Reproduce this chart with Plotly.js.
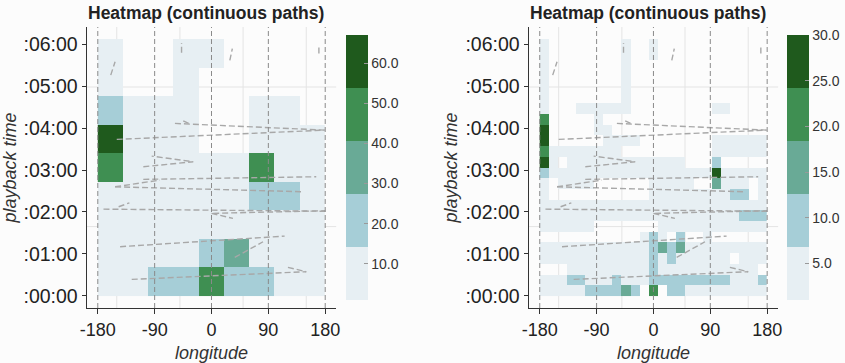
<!DOCTYPE html>
<html>
<head>
<meta charset="utf-8">
<script src="https://cdn.plot.ly/plotly-3.0.1.min.js"></script>
<style>html,body{margin:0;padding:0;background:#fcfcfc;}#chart{width:845px;height:363px;}</style>
</head>
<body>
<div id="chart"></div>
<script>
// ---------- data ----------
const chartTitle = "Heatmap (continuous paths)";
const lonTicks = [-180, -90, 0, 90, 180];
const lonTickText = ["-180", "-90", "0", "90", "180"];
const timeTicks = [0, 60, 120, 180, 240, 300, 360];   // minutes
const timeTickText = [":00:00", ":01:00", ":02:00", ":03:00", ":04:00", ":05:00", ":06:00"];
const bgGridLon = [-150, -50, 50, 150];
const bgGridTime = [99, 299];

// left heatmap: 9 longitude bins x 9 time bins
const leftLon = [-160, -120, -80, -40, 0, 40, 80, 120, 160];
const leftTime = [20.4, 61.3, 102.1, 143.0, 183.8, 224.6, 265.5, 306.3, 347.2];
const leftZ = [
  [7, 7, 20, 20, 47, 20, 20, 7, 7],
  [7, 7, 7, 7, 20, 34, 7, 7, 7],
  [7, 7, 7, 7, 7, 7, 7, 7, 7],
  [7, 7, 7, 7, 7, 7, 20, 20, 7],
  [47, 7, 7, 7, 7, 7, 47, 7, 7],
  [67, 7, 7, 7, null, null, 7, 7, 7],
  [20, 7, 7, 7, null, null, 7, 7, null],
  [7, null, null, 7, null, null, null, null, null],
  [7, null, null, 7, 7, null, null, null, null]
];
const leftCbTicks = [10, 20, 30, 40, 50, 60];

// right heatmap: 25 longitude bins x 24 time bins
const rightLon = [-172.8, -158.4, -144, -129.6, -115.2, -100.8, -86.4, -72, -57.6, -43.2, -28.8, -14.4, 0,
                  14.4, 28.8, 43.2, 57.6, 72, 86.4, 100.8, 115.2, 129.6, 144, 158.4, 172.8];
const rightTime = [7.7, 23.0, 38.3, 53.6, 68.9, 84.3, 99.6, 114.9, 130.2, 145.5, 160.9, 176.2,
                   191.5, 206.8, 222.1, 237.4, 252.8, 268.1, 283.4, 298.7, 314.0, 329.3, 344.7, 360.0];
const n = null;
const rightZ = [
  [3,3,3,3,3, 9,9,9,9, 15, 9, n, 21, n, 9,9, 3,3,3,3,3,3,3,3,3],
  [3,3,3, 9,9, 3,3,3, 9, 3,3,3, 9,9,9,9,9,9,9,9,9, 3,3,3, 9],
  [n,n,n, 3,3,3,3,3,3,3,3,3, 9, 3,3,3,3,3,3,3,3,3,3,3, n],
  [3,3,3,3,3,3,3,3,3,3,3,3, 9, 3, 9, 3,3,3,3,3,3, n, 3,3,3],
  [3,3,3,3,3,3,3,3,3,3,3,3, 9, 15, 9, 15, 3,3,3,3,3,3,3,3,3],
  [n,n,n,n,n,n,n,n,n,n,n, 3, 9, 3, n, 9, n, n, 3, n,n,n,n,n,n],
  [3,3,3,3,3,3, n,n,n,n,n,n,n, 3, 3,3,3,3,3,3,3,3,3,3,3],
  [3,3,3,3,3,3,3,3,3,3,3,3,3,3,3,3,3,3,3,3,3,3, 9,9,9],
  [3,3,3,3,3,3,3,3,3,3,3,3,3,3,3,3,3,3,3,3,3,3,3,3,3],
  [3, n,n,n,n,n,n,n,n,n,n,n, 3,3,3,3,3,3,3, 3, 3, 9, 9, n, 3],
  [3, n, 3,3,3,3, n,n,n,n,n,n, 3,3,3,3,3, n, n, 15, 3,3,3, n, 3],
  [9, 3,3,3,3,3,3,3,3,3,3,3,3,3,3,3,3,3,3, 27, 3,3,3,3,3],
  [27, 3, n, 3,3,3,3,3,3,3,3,3,3,3,3,3, n,n,n, 9, n,n,n,n,n],
  [21, 3,3,3,3,3,3,3,3, n,n,n,n,n,n,n,n,n,n, 3,3,3,3,3,3],
  [27, n,n,n,n,n,n, 3,3,3,3, n,n,n,n,n,n,n,n, 3,3,3,3,3,3],
  [27, n,n,n,n,n, 3,3, n,n,n,n,n,n,n,n,n,n,n,n,n,n,n,n,n],
  [21, n,n,n,n,n, 3, n,n,n,n,n,n,n,n,n,n,n,n,n,n,n,n,n,n],
  [3, n,n,n, 3,3,3,3,3,3, n,n,n,n,n,n,n,n,n, 3,3, n,n,n,n],
  [3, n,n,n,n,n,n,n,n, 3, n,n,n,n,n,n,n,n,n,n,n,n,n,n,n],
  [3, n,n,n,n,n,n,n,n, 3, n,n,n,n,n,n,n,n,n,n,n,n,n,n,n],
  [3, n,n,n,n,n,n,n,n, 3, n,n,n,n,n,n,n,n,n,n,n,n,n,n,n],
  [3, n,n,n,n,n,n,n,n, 3, n,n,n,n,n,n,n,n,n,n,n,n,n,n,n],
  [3, n,n,n,n,n,n,n,n, 3, n,n, 3, n,n,n,n,n,n,n,n,n,n,n,n],
  [3, n,n,n,n,n,n,n,n, 3, n,n, 3, n,n,n,n,n,n,n,n,n,n,n,n]
];
const rightCbTicks = [5, 10, 15, 20, 25, 30];

// continuous paths (longitude, minutes), segments separated by null
const pathLon = [-159.5, -152.6, null, -47.4, -47.4, null, 29, 33, null, 170, 170, null,
  -57.9, 179, null, -44.7, -34, null, -150, 179, null,
  -107.9, -28.9, -94.7, null, -152.6, -81.6, null, -108, 165.8, null,
  -152.6, 142, null, -171, 180, null, -147, -130, null,
  0, 34, null, 2.6, 180, null, -144.7, 115.8, null, 36.8, 81.6, null,
  -126.3, 150, null, 121, 150];
const pathTime = [316, 335, null, 348, 362, null, 337, 354, null, 347, 359, null,
  246.8, 237.2, null, 250.6, 245.8, null, 223.9, 237.2, null,
  184.7, 191.9, 200, null, 156, 165.6, null, 166.6, 170.4, null,
  156, 149, null, 124, 121, null, 127.4, 133, null,
  118, 110.7, null, 118, 121.7, null, 70.2, 85.4, null, 54.9, 77.3, null,
  23.4, 34.4, null, 40.6, 34.4];

// ---------- styling ----------
const bandColors = ['#e7eff3', '#a6ced7', '#69aa96', '#3f8f52', '#1f5a1d'];
function discreteScale(cols) {
  const s = [];
  cols.forEach((c, i) => { s.push([i / cols.length, c]); s.push([(i + 1) / cols.length, c]); });
  return s;
}
const FONT = 'Liberation Sans, Arial, sans-serif';
const W = 845, H = 363;
const yDom = [(H - 308) / H, (H - 27) / H];

function cb(xpx, ticks) {
  return {
    thickness: 22, thicknessmode: 'pixels',
    len: 265 / H, lenmode: 'fraction',
    x: xpx / W, xanchor: 'left', y: (H - 167.5) / H, yanchor: 'middle',
    xpad: 0, ypad: 0, outlinewidth: 0,
    tickvals: ticks, tickformat: '.1f',
    ticks: 'inside', ticklen: 4, tickcolor: '#999', tickwidth: 1,
    tickfont: {family: FONT, size: 14, color: '#333'}
  };
}

const traces = [
  {type: 'heatmap', x: leftLon, y: leftTime, z: leftZ, xaxis: 'x', yaxis: 'y',
   colorscale: discreteScale(bandColors), zmin: 1, zmax: 67, colorbar: cb(346.7, leftCbTicks),
   hoverongaps: false},
  {type: 'heatmap', x: rightLon, y: rightTime, z: rightZ, xaxis: 'x2', yaxis: 'y2',
   colorscale: discreteScale(bandColors), zmin: 1, zmax: 30, colorbar: cb(789.3, rightCbTicks),
   hoverongaps: false},
  {type: 'scatter', mode: 'lines', x: pathLon, y: pathTime, xaxis: 'x', yaxis: 'y',
   line: {color: '#a8a8a8', width: 1.4, dash: '6px,3px'}, hoverinfo: 'skip', showlegend: false},
  {type: 'scatter', mode: 'lines', x: pathLon, y: pathTime, xaxis: 'x2', yaxis: 'y2',
   line: {color: '#a8a8a8', width: 1.4, dash: '6px,3px'}, hoverinfo: 'skip', showlegend: false}
];

function xAxis(dom, anchor) {
  return {
    domain: dom, anchor: anchor, range: [-197.4, 197.4],
    tickvals: lonTicks, ticktext: lonTickText,
    showgrid: false, zeroline: false, showline: true, linecolor: '#333', linewidth: 1.2,
    ticks: 'outside', ticklen: 5, tickcolor: '#333',
    tickfont: {family: FONT, size: 18, color: '#222'},
    title: {text: 'longitude', font: {family: FONT, size: 18, color: '#333', style: 'italic'}, standoff: 7}
  };
}
function yAxis(dom, anchor) {
  return {
    domain: dom, anchor: anchor, range: [-17.6, 384.9],
    tickvals: timeTicks, ticktext: timeTickText,
    showgrid: false, zeroline: false, showline: true, linecolor: '#333', linewidth: 1.2,
    ticks: 'outside', ticklen: 4, tickcolor: '#333',
    tickfont: {family: FONT, size: 19.5, color: '#222'},
    title: {text: 'playback time', font: {family: FONT, size: 18, color: '#333', style: 'italic'}, standoff: 3}
  };
}

const shapes = [];
[['x', 'y'], ['x2', 'y2']].forEach(([xr, yr]) => {
  bgGridLon.forEach(v => shapes.push({type: 'line', layer: 'below', xref: xr, yref: yr + ' domain',
    x0: v, x1: v, y0: 0, y1: 1, line: {color: '#e4e4e4', width: 1}}));
  bgGridTime.forEach(v => shapes.push({type: 'line', layer: 'below', xref: xr + ' domain', yref: yr,
    x0: 0, x1: 1, y0: v, y1: v, line: {color: '#e4e4e4', width: 1}}));
  lonTicks.forEach(v => shapes.push({type: 'line', layer: 'above', xref: xr, yref: yr + ' domain',
    x0: v, x1: v, y0: 0, y1: 1, line: {color: '#8a8a8a', width: 1, dash: '5px,3px'}}));
});

const layout = {
  width: W, height: H,
  margin: {l: 0, r: 0, t: 0, b: 0},
  paper_bgcolor: '#fcfcfc', plot_bgcolor: '#fcfcfc',
  font: {family: FONT, color: '#222'},
  showlegend: false,
  xaxis: xAxis([87 / W, 337 / W], 'y'),
  yaxis: yAxis(yDom, 'x'),
  xaxis2: xAxis([530 / W, 780 / W], 'y2'),
  yaxis2: yAxis(yDom, 'x2'),
  shapes: shapes,
  annotations: [
    {text: '<b>' + chartTitle + '</b>', xref: 'paper', yref: 'paper', x: 206 / W, y: 1 - 13 / H,
     xanchor: 'center', yanchor: 'middle', showarrow: false, font: {family: FONT, size: 17.5, color: '#222'}},
    {text: '<b>' + chartTitle + '</b>', xref: 'paper', yref: 'paper', x: 649.7 / W, y: 1 - 13 / H,
     xanchor: 'center', yanchor: 'middle', showarrow: false, font: {family: FONT, size: 17.5, color: '#222'}}
  ]
};

Plotly.newPlot('chart', traces, layout, {staticPlot: true, displayModeBar: false});
</script>
</body>
</html>
